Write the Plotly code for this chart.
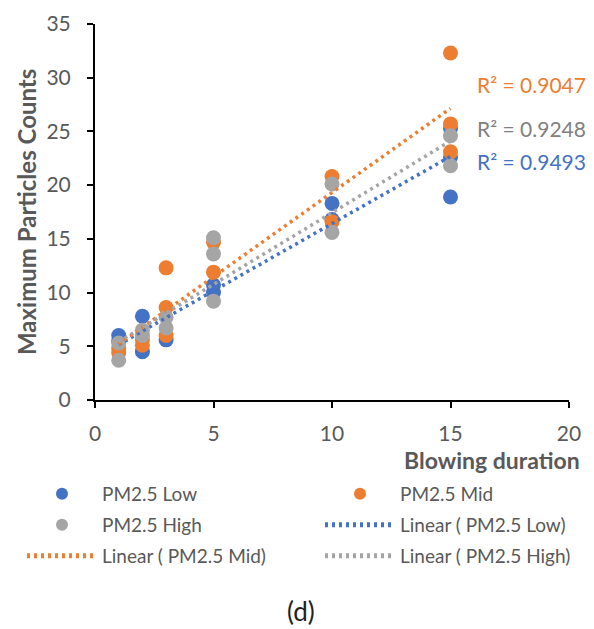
import numpy as np
import plotly.graph_objects as go

# ---- data ----
low_x = [1, 1, 2, 2, 3, 5, 5, 10, 10, 15, 15, 15]
low_y = [6.0, 5.5, 7.8, 4.5, 5.6, 10.7, 10.0, 18.3, 16.8, 18.9, 22.6, 25.3]

mid_x = [1, 1, 2, 2, 3, 3, 3, 5, 5, 10, 10, 15, 15, 15]
mid_y = [4.4, 4.8, 5.1, 5.6, 8.6, 12.3, 6.0, 14.7, 11.9, 20.8, 16.6, 32.3, 25.7, 23.1]

high_x = [1, 1, 2, 2, 3, 3, 5, 5, 5, 10, 10, 15, 15]
high_y = [3.7, 5.3, 6.0, 6.5, 7.7, 6.7, 15.1, 13.6, 9.2, 20.1, 15.6, 24.6, 21.8]

r2_labels = ["R² = 0.9047", "R² = 0.9248", "R² = 0.9493"]

BLUE, ORANGE, GRAY = "#4472C4", "#ED7D31", "#A5A5A5"
TXT = "#595959"
FONT = "Lato"

fig = go.Figure()

series = [("PM2.5 Low", low_x, low_y, BLUE),
          ("PM2.5 Mid", mid_x, mid_y, ORANGE),
          ("PM2.5 High", high_x, high_y, GRAY)]

marker_legends = ["legend", "legend2", "legend3"]
trend_legends = ["legend4", "legend5", "legend6"]

for (name, xs, ys, col), lg in zip(series, marker_legends):
    fig.add_trace(go.Scatter(x=xs, y=ys, mode="markers", name=name,
                             marker=dict(color=col, size=15),
                             legend=lg))

for (name, xs, ys, col), lg in zip(series, trend_legends):
    m, b = np.polyfit(xs, ys, 1)
    tx = np.array([min(xs), max(xs)], dtype=float)
    fig.add_trace(go.Scatter(x=tx, y=m * tx + b, mode="lines",
                             name="Linear ( " + name + ")",
                             line=dict(color=col, width=3.5, dash="3px,4px"),
                             legend=lg))

# R² labels
for txt, col, yv in zip(r2_labels, [ORANGE, "#808080", BLUE], [29.4, 25.3, 22.2]):
    fig.add_annotation(x=16.05, y=yv, xref="x", yref="y", text=txt, showarrow=False,
                       xanchor="left", yanchor="middle",
                       font=dict(family=FONT, size=21, color=col))

fig.add_annotation(x=(582 - 95) / 474, y=(400 - 460) / 376, xref="paper", yref="paper",
                   text="<b>Blowing duration</b>", showarrow=False,
                   xanchor="right", yanchor="middle",
                   font=dict(family=FONT, size=23, color=TXT))

fig.add_annotation(x=(26 - 95) / 474, y=0.5, xref="paper", yref="paper",
                   text="<b>Maximum Particles Counts</b>", showarrow=False,
                   textangle=-90, xanchor="center", yanchor="middle",
                   font=dict(family=FONT, size=24, color=TXT))

fig.add_annotation(x=(301 - 95) / 474, y=(400 - 611) / 376, xref="paper", yref="paper",
                   text="(d)", showarrow=False, xanchor="center", yanchor="middle",
                   font=dict(family=FONT, size=26, color="#222222"))

leg_common = dict(orientation="v", xref="container", yref="container",
                  xanchor="left", yanchor="middle", itemwidth=70,
                  font=dict(family=FONT, size=19, color=TXT),
                  bgcolor="rgba(0,0,0,0)", itemsizing="constant")

legend_pos = {"legend": (22, 494), "legend2": (320, 494),
              "legend3": (22, 525), "legend4": (320, 525),
              "legend5": (22, 556), "legend6": (320, 556)}
leg_layout = {k: dict(x=px / 594, y=1 - py / 629, **leg_common)
              for k, (px, py) in legend_pos.items()}

fig.update_layout(
    width=594, height=629,
    margin=dict(l=95, r=25, t=24, b=229, autoexpand=False),
    paper_bgcolor="white", plot_bgcolor="white",
    font=dict(family=FONT, color=TXT),
    showlegend=True,
    **leg_layout,
    xaxis=dict(range=[0, 20], tickvals=[0, 5, 10, 15, 20], showgrid=False,
               zeroline=False, showline=True, linecolor="black", linewidth=2,
               ticks="outside", tickcolor="black", ticklen=6, tickwidth=2,
               ticklabelstandoff=8, automargin=False,
               tickfont=dict(family=FONT, size=21, color=TXT)),
    yaxis=dict(range=[0, 35], tickvals=list(range(0, 36, 5)), showgrid=False,
               zeroline=False, showline=True, linecolor="black", linewidth=2,
               ticks="outside", tickcolor="black", ticklen=6, tickwidth=2,
               ticklabelstandoff=12, automargin=False,
               tickfont=dict(family=FONT, size=21, color=TXT)),
)

fig.write_html("out.html")
